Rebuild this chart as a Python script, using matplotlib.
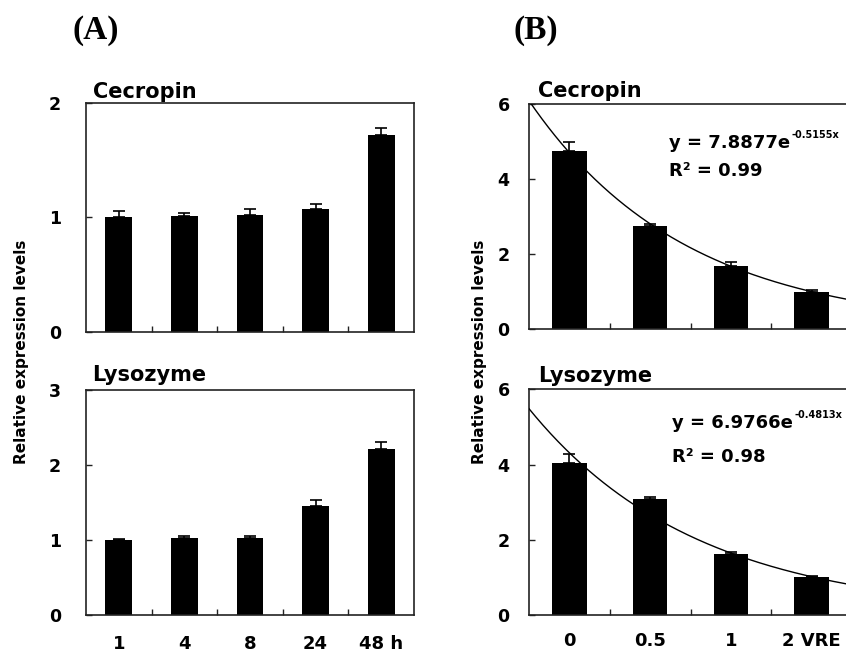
import numpy as np
import matplotlib
matplotlib.use("Agg")
import matplotlib.pyplot as plt

# ---------------- data ----------------
cats_a = ["1", "4", "8", "24", "48 h"]
cec_a = [1.00, 1.01, 1.02, 1.07, 1.72]
cec_a_err = [0.055, 0.03, 0.055, 0.045, 0.065]
lys_a = [1.00, 1.03, 1.03, 1.46, 2.21]
lys_a_err = [0.01, 0.03, 0.03, 0.07, 0.10]

cats_b = ["0", "0.5", "1", "2 VRE"]
cec_b = [4.75, 2.76, 1.70, 1.00]
cec_b_err = [0.25, 0.06, 0.09, 0.05]
lys_b = [4.03, 3.08, 1.61, 1.00]
lys_b_err = [0.24, 0.07, 0.06, 0.05]

# exponential trendlines (y = a * exp(b * x), x = 1..n)
cec_fit = (7.8877, -0.5155)
lys_fit = (6.9766, -0.4813)
cec_r2 = "0.99"
lys_r2 = "0.98"

# ---------------- figure ----------------
W, H = 846, 657
fig = plt.figure(figsize=(W / 100, H / 100), dpi=100)
FONT = "DejaVu Sans"


def px_axes(l, r, t, b):
    return fig.add_axes([l / W, 1 - b / H, (r - l) / W, (b - t) / H])


def style(ax, ncat, ylim, yticks, labels, ypad, xpad):
    ax.set_xlim(-0.5, ncat - 0.5)
    ax.set_ylim(*ylim)
    ax.set_yticks(yticks)
    ax.set_yticklabels([str(t) for t in yticks], fontsize=12.5,
                       fontweight="bold", family=FONT)
    ax.set_xticks(range(ncat))
    if labels is None:
        ax.set_xticklabels([""] * ncat)
    else:
        ax.set_xticklabels(labels, fontsize=13, fontweight="bold", family=FONT)
    ax.set_xticks(np.arange(ncat - 1) + 0.5, minor=True)
    ax.tick_params(axis="x", which="major", length=0, pad=xpad)
    ax.tick_params(axis="x", which="minor", direction="in", length=4.5,
                   width=1.0, color="#222222")
    ax.tick_params(axis="y", which="major", direction="in", length=4.5,
                   width=1.0, pad=ypad, color="#222222")
    for s in ax.spines.values():
        s.set_linewidth(1.2)
        s.set_color("#222222")


def bars(ax, vals, errs, width):
    x = np.arange(len(vals))
    ax.bar(x, vals, width=width, color="black", zorder=2,
           yerr=[np.zeros(len(errs)), errs], capsize=4,
           error_kw=dict(elinewidth=1.2, capthick=1.2, ecolor="black", zorder=3))


def title(ax, txt, xf, yoff_px, h_px):
    ax.text(xf, 1 + yoff_px / h_px, txt, transform=ax.transAxes,
            fontsize=15, fontweight="bold", family=FONT, ha="left", va="baseline")


def trend(ax, fit, n):
    a, b = fit
    p = np.linspace(-0.5, n - 0.5, 300)
    ax.plot(p, a * np.exp(b * (p + 1)), color="black", lw=1.0, zorder=4)


def equation(ax, fit, r2, x_px, y1_px, y2_px, axl, axt, axw, axh):
    a, b = fit
    xf = (x_px - axl) / axw
    t = ax.text(xf, 1 - (y1_px - axt) / axh, f"y = {a:.4f}e",
                transform=ax.transAxes, fontsize=13, fontweight="bold",
                family=FONT, ha="left", va="baseline")
    ax.annotate(f"{b:.4f}x", xy=(1.0, 1.0), xycoords=t, xytext=(1, -1),
                textcoords="offset points", fontsize=7, fontweight="bold",
                family=FONT, ha="left", va="center")
    ax.text(xf, 1 - (y2_px - axt) / axh, f"R\u00b2 = {r2}",
            transform=ax.transAxes, fontsize=13, fontweight="bold",
            family=FONT, ha="left", va="baseline")


# Panel A
axA1 = px_axes(86, 414, 103.3, 331.5)
axA2 = px_axes(86, 414, 390, 615.3)
bars(axA1, cec_a, cec_a_err, 0.41)
bars(axA2, lys_a, lys_a_err, 0.41)
style(axA1, 5, (0, 2), [0, 1, 2], None, 18, 14)
style(axA2, 5, (0, 3), [0, 1, 2, 3], cats_a, 18, 14)
title(axA1, "Cecropin", 0.02, 5, 228.2)
title(axA2, "Lysozyme", 0.02, 9, 225.3)

# Panel B
axB1 = px_axes(529, 852, 104.3, 329.3)
axB2 = px_axes(529, 852, 389.3, 615)
bars(axB1, cec_b, cec_b_err, 0.43)
bars(axB2, lys_b, lys_b_err, 0.43)
trend(axB1, cec_fit, 4)
trend(axB2, lys_fit, 4)
style(axB1, 4, (0, 6), [0, 2, 4, 6], None, 14, 12)
style(axB2, 4, (0, 6), [0, 2, 4, 6], cats_b, 14, 12)
title(axB1, "Cecropin", 0.028, 7.6, 225)
title(axB2, "Lysozyme", 0.028, 7.6, 225.7)
equation(axB1, cec_fit, cec_r2, 669, 148, 176, 529, 104.3, 323, 225)
equation(axB2, lys_fit, lys_r2, 672, 428, 462, 529, 389.3, 323, 225.7)

# y labels
for xc in (22, 479):
    fig.text(xc / W, 1 - 352 / H, "Relative expression levels", rotation=90,
             ha="center", va="center", fontsize=11, fontweight="bold", family=FONT)

# panel letters
fig.text(96 / W, 1 - 30 / H, "(A)", ha="center", va="center", fontsize=24,
         fontweight="bold", family="Liberation Serif")
fig.text(536 / W, 1 - 30 / H, "(B)", ha="center", va="center", fontsize=24,
         fontweight="bold", family="Liberation Serif")

fig.savefig("out.png", dpi=100)
